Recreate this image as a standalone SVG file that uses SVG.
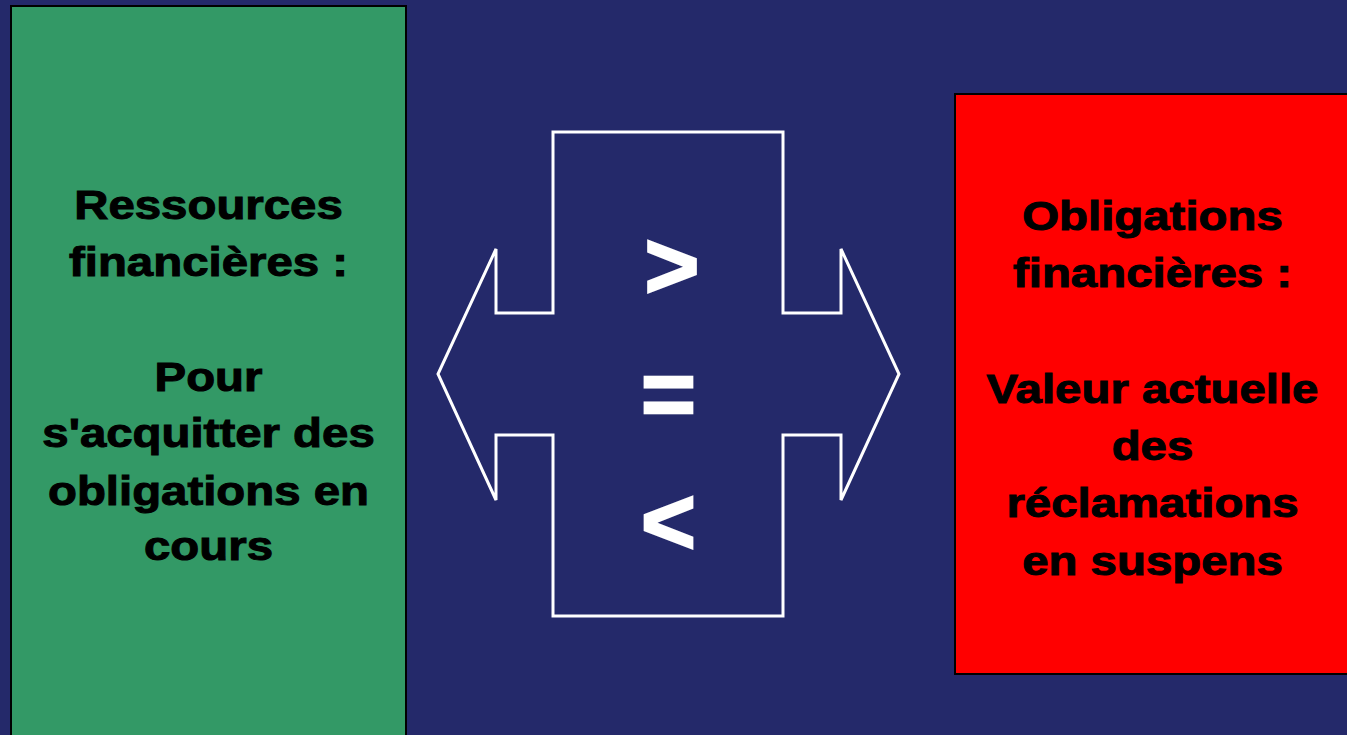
<svg xmlns="http://www.w3.org/2000/svg" width="1347" height="735" viewBox="0 0 1347 735">
<style>
.lbl{font-family:"Liberation Sans",Arial,sans-serif;font-weight:bold;font-size:40.5px;fill:#000;stroke:#000;stroke-width:1;text-anchor:middle}
.sym{font-family:"Liberation Sans",Arial,sans-serif;font-weight:bold;font-size:94px;fill:#fff;stroke:#fff;stroke-width:2.5;text-anchor:middle}
.box{stroke:#000;stroke-width:2}
</style>
<rect x="0" y="0" width="1347" height="735" fill="#24296A"/>
<g id="ressources">
<rect class="box" x="11" y="6" width="395" height="740" fill="#339966"/>
<g transform="translate(208.5,0) scale(1.17,1)">
<text class="lbl" x="0" y="219">Ressources</text>
<text class="lbl" x="0" y="276">financières :</text>
<text class="lbl" x="0" y="391">Pour</text>
<text class="lbl" x="0" y="447">s'acquitter des</text>
<text class="lbl" x="0" y="505">obligations en</text>
<text class="lbl" x="0" y="560">cours</text>
</g>
</g>
<g id="obligations">
<rect class="box" x="955" y="94" width="400" height="580" fill="#FF0000"/>
<g transform="translate(1152.5,0) scale(1.17,1)">
<text class="lbl" x="0" y="230">Obligations</text>
<text class="lbl" x="0" y="287">financières :</text>
<text class="lbl" x="0" y="403">Valeur actuelle</text>
<text class="lbl" x="0" y="460">des</text>
<text class="lbl" x="0" y="517">réclamations</text>
<text class="lbl" x="0" y="575">en suspens</text>
</g>
</g>
<g id="connectors">
<g id="comparison">
<polygon points="553,132 783,132 783,313 841,313 841,249 899,374 841,500 841,435 783,435 783,616 553,616 553,435 496,435 496,500 438,374 496,249 496,313 553,313" fill="none" stroke="#fff" stroke-width="3"/>
<text class="sym" x="672" y="297.5">&gt;</text>
<text class="sym" x="668.5" y="426">=</text>
<text class="sym" x="668.5" y="553.5">&lt;</text>
</g>
</g>
</svg>
